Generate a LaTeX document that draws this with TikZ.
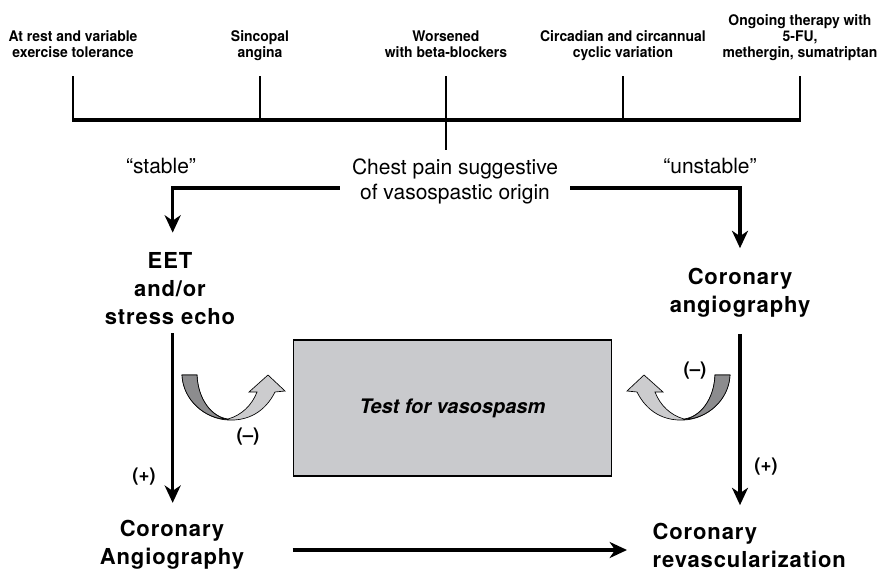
\documentclass[tikz,border=0pt]{standalone}
\usepackage{fontspec}
\setmainfont{TeX Gyre Heros}
\newfontfamily\narrowfont[FakeStretch=0.95]{TeX Gyre Heros}
\newfontfamily\spacedfont[LetterSpace=4]{TeX Gyre Heros}
\usetikzlibrary{arrows.meta}
\definecolor{boxgray}{RGB}{201,202,205}
\definecolor{curvedark}{RGB}{140,140,142}
\definecolor{curvelight}{RGB}{204,204,206}

\begin{document}
\begin{tikzpicture}[x=0.75pt,y=-0.75pt,
  toplabel/.style={font=\fontsize{11}{12}\narrowfont\bfseries, align=center, anchor=south, text depth=0pt, inner sep=0pt},
  steplabel/.style={font=\fontsize{16.5}{21}\spacedfont\bfseries, align=center, inner sep=1pt},
  plainlabel/.style={font=\fontsize{15.75}{18.75}\selectfont, align=center, inner sep=1pt},
  signlabel/.style={font=\fontsize{14}{16}\selectfont\bfseries, inner sep=1pt},
  tick/.style={line width=1.2pt},
  bar/.style={line width=2.6pt},
  flow/.style={line width=2.6pt, -{Stealth[length=13pt,width=12pt,inset=4pt]}},
  testbox/.style={draw, line width=0.8pt, fill=boxgray, minimum width=239pt, minimum height=102pt,
    font=\fontsize{15}{18}\selectfont\bfseries\itshape}]
\useasboundingbox (0,0) rectangle (883,571);

% symptoms
\node[toplabel] (t1) at (73,58) {At rest and variable\\exercise tolerance};
\node[toplabel] (t2) at (260,58) {Sincopal\\angina};
\node[toplabel] (t3) at (446,58) {Worsened\\with beta-blockers};
\node[toplabel] (t4) at (623,58) {Circadian and circannual\\cyclic variation};
\node[toplabel] (t5) at (800,58) {Ongoing therapy with\\5-FU,\\methergin, sumatriptan};

\coordinate (tk) at (0,76);
\coordinate (barL) at (73,120);
\coordinate (barR) at (800,120);
\coordinate (stem) at (446,150);
\foreach \t in {t1,t2,t3,t4,t5}
  \draw[tick] (\t |- tk) -- (\t |- barL);
\draw[tick] (t3 |- barL) -- (stem);
\draw[bar] ([xshift=-0.6pt]barL) -- ([xshift=0.6pt]barR);

% branches
\node[plainlabel, inner xsep=9pt] (chest) at (455,181) {Chest pain suggestive\\of vasospastic origin};
\node[plainlabel] (stable) at (161,166) {``stable''};
\node[plainlabel] (unstable) at (710,166) {``unstable''};
\coordinate (lb) at (0,188);

\node[steplabel] (eet) at (170,289) {EET\\and/or\\stress echo};
\node[steplabel] (angio) at (740,293) {Coronary\\angiography};
\node[steplabel] (angio2) at (172,545) {Coronary\\Angiography};
\node[steplabel, align=left, anchor=west] (revasc) at (651,545) {Coronary\\revascularization};

\draw[flow] (chest.west |- lb) -| ([xshift=2pt, yshift=14pt]eet.north);
\draw[flow] (chest.east |- lb) -| ([yshift=14pt]angio.north);
\draw[flow, shorten <=5pt, shorten >=12pt] ([xshift=2pt]eet.south) -- ([xshift=2pt]eet.south |- angio2.north);
\draw[flow, shorten <=11pt, shorten >=12pt] (angio) -- (angio |- revasc.north);

% test
\node[testbox] (test) at (452.5,408) {Test for vasospasm};
\coordinate (bl) at (0,550);
\draw[flow, shorten >=18pt] (test.west |- bl) -- (revasc.west |- bl);

\node[signlabel] (plusL) at (144,477) {(+)};
\node[signlabel] (plusR) at (766,467) {(+)};
\node[signlabel] (minusL) at (248,437) {(--)};
\node[signlabel] (minusR) at (695,371) {(--)};

% curved arrows
\foreach \s/\m in {0/1, 912/-1}
{
\begin{scope}[shift={(\s,0)}, xscale=\m]
  \draw[fill=curvelight, line width=0.5pt] (182,375) -- (197,375)
    .. controls (198,400) and (212,417) .. (228,419)
    .. controls (242,415) and (252,405) .. (257,392)
    -- (249,392) -- (268,375) -- (285,391) -- (275,392)
    .. controls (265,412) and (248,421) .. (228,420)
    .. controls (205,419) and (183,400) .. (182,375) -- cycle;
  \draw[fill=curvedark, line width=0.5pt] (182,375) -- (197,375)
    .. controls (198,400) and (212,417) .. (228,419.5)
    .. controls (205,419) and (183,400) .. (182,375) -- cycle;
\end{scope}
}
\end{tikzpicture}
\end{document}
